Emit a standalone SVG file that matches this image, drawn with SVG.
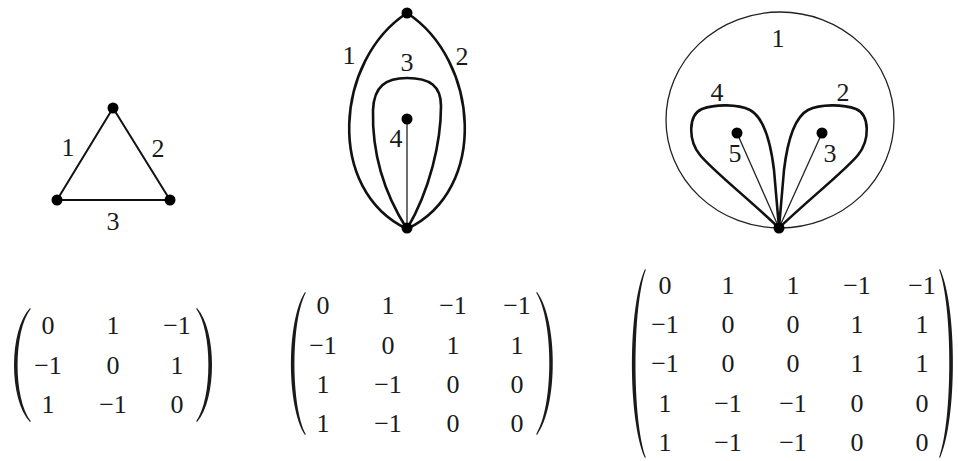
<svg xmlns="http://www.w3.org/2000/svg" width="958" height="461" viewBox="0 0 958 461">
<style>
text{font-family:"Liberation Serif","Times New Roman",serif;font-size:26px;fill:#1a1a1a;text-anchor:middle}
.e{fill:none;stroke:#111;stroke-width:2;stroke-linecap:round}
.thick{fill:none;stroke:#111;stroke-width:2.6;stroke-linejoin:round}
.thin{fill:none;stroke:#222;stroke-width:1.3}
.v{fill:#000}
.par{fill:#1a1a1a}
</style>
<rect width="958" height="461" fill="#fff"/>
<g id="connectors">
  <line class="e" x1="113" y1="108" x2="57" y2="200"/>
  <line class="e" x1="113" y1="108" x2="170" y2="200"/>
  <line class="e" x1="57" y1="200" x2="170" y2="200"/>
  <path class="thick" d="M407,13 C335,60 325,190 407,229"/>
  <path class="thick" d="M407,13 C479,60 489,190 407,229"/>
  <path class="thick" d="M407,229 C382,190 372,150 373,110 C374,86 386,78 407,78 C430,78 441,86 441,106 C441,142 430,190 407,229 Z"/>
  <line class="thin" x1="407" y1="119" x2="407" y2="229"/>
  <ellipse class="thin" cx="780" cy="120" rx="114" ry="108"/>
  <path class="thick" d="M779,228 C750,200 712,170 700,155 C688,140 688,115 702,109 C715,104 738,104 750,110 C765,118 771,145 774,170 C776,195 778,215 779,228 Z"/>
  <path class="thick" d="M779,228 C808,200 846,170 858,155 C870,140 870,115 856,109 C843,104 820,104 808,110 C793,118 787,145 784,170 C782,195 780,215 779,228 Z"/>
  <line class="thin" x1="737" y1="133" x2="779" y2="228"/>
  <line class="thin" x1="822" y1="133" x2="779" y2="228"/>
</g>
<g id="n1a"><circle class="v" cx="113" cy="108" r="5.5"/></g>
<g id="n1b"><circle class="v" cx="57" cy="200" r="5.5"/></g>
<g id="n1c"><circle class="v" cx="170" cy="200" r="5.5"/></g>
<g id="n2a"><circle class="v" cx="407" cy="13" r="5.5"/></g>
<g id="n2b"><circle class="v" cx="407" cy="119" r="5.5"/></g>
<g id="n2c"><circle class="v" cx="407" cy="228" r="5.5"/></g>
<g id="n3a"><circle class="v" cx="737" cy="133" r="5.5"/></g>
<g id="n3b"><circle class="v" cx="822" cy="133" r="5.5"/></g>
<g id="n3c"><circle class="v" cx="779" cy="228" r="5.5"/></g>
<g id="labels">
  <text x="68" y="156">1</text>
  <text x="158" y="157">2</text>
  <text x="113" y="230">3</text>
  <text x="349" y="64">1</text>
  <text x="407" y="71">3</text>
  <text x="462" y="65">2</text>
  <text x="396" y="147">4</text>
  <text x="778" y="47">1</text>
  <text x="717" y="101">4</text>
  <text x="843" y="101">2</text>
  <text x="735" y="162">5</text>
  <text x="830" y="162">3</text>
</g>
<g id="matrix1">
  <path class="par" d="M30,308 C8.7,331 8.7,399 30,422 L30.8,421.2 C13.2,399 13.2,331 30.8,308.8 Z"/>
  <path class="par" d="M197,308 C217,331 217,399 197,422 L196.2,421.2 C212.5,399 212.5,331 196.2,308.8 Z"/>
  <text x="48" y="334">0</text><text x="113" y="334">1</text><text x="177" y="334">−1</text>
  <text x="48" y="374">−1</text><text x="113" y="374">0</text><text x="177" y="374">1</text>
  <text x="48" y="413">1</text><text x="113" y="413">−1</text><text x="177" y="413">0</text>
</g>
<g id="matrix2">
  <path class="par" d="M305,292 C286.3,321 286.3,406 305,435 L305.8,434.2 C290.8,406 290.8,321 305.8,292.8 Z"/>
  <path class="par" d="M537,292 C558.3,321 558.3,406 537,435 L536.2,434.2 C553.8,406 553.8,321 536.2,292.8 Z"/>
  <text x="323" y="314">0</text><text x="388" y="314">1</text><text x="453" y="314">−1</text><text x="517" y="314">−1</text>
  <text x="323" y="353.5">−1</text><text x="388" y="353.5">0</text><text x="453" y="353.5">1</text><text x="517" y="353.5">1</text>
  <text x="323" y="392.5">1</text><text x="388" y="392.5">−1</text><text x="453" y="392.5">0</text><text x="517" y="392.5">0</text>
  <text x="323" y="431.5">1</text><text x="388" y="431.5">−1</text><text x="453" y="431.5">0</text><text x="517" y="431.5">0</text>
</g>
<g id="matrix3">
  <path class="par" d="M645,269 C627.7,307 627.7,420 645,458 L645.8,457.2 C632.2,420 632.2,307 645.8,269.8 Z"/>
  <path class="par" d="M940,269 C957.3,307 957.3,420 940,458 L939.2,457.2 C952.8,420 952.8,307 939.2,269.8 Z"/>
  <text x="665" y="294">0</text><text x="728" y="294">1</text><text x="793" y="294">1</text><text x="857" y="294">−1</text><text x="922" y="294">−1</text>
  <text x="665" y="333">−1</text><text x="728" y="333">0</text><text x="793" y="333">0</text><text x="857" y="333">1</text><text x="922" y="333">1</text>
  <text x="665" y="372">−1</text><text x="728" y="372">0</text><text x="793" y="372">0</text><text x="857" y="372">1</text><text x="922" y="372">1</text>
  <text x="665" y="411.5">1</text><text x="728" y="411.5">−1</text><text x="793" y="411.5">−1</text><text x="857" y="411.5">0</text><text x="922" y="411.5">0</text>
  <text x="665" y="450.5">1</text><text x="728" y="450.5">−1</text><text x="793" y="450.5">−1</text><text x="857" y="450.5">0</text><text x="922" y="450.5">0</text>
</g>
</svg>
